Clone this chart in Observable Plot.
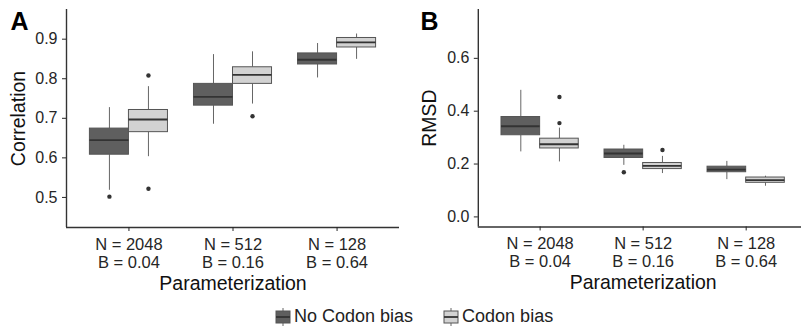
<!DOCTYPE html>
<html>
<head>
<meta charset="utf-8">
<script src="https://cdn.jsdelivr.net/npm/d3@7"></script>
<script src="https://cdn.jsdelivr.net/npm/@observablehq/plot@0.6"></script>
<style>
  html, body { margin: 0; padding: 0; background: #fff; }
  #wrap { position: relative; width: 802px; height: 331px; background: #fff; font-family: "Liberation Sans", Arial, sans-serif; overflow: hidden; }
  #a { position: absolute; left: 0; top: 0; }
  #b { position: absolute; left: 401px; top: 0; }
  #legend { position: absolute; left: 275px; top: 306px; display: flex; align-items: center; font-size: 18px; color: #222; }
  .item { display: flex; align-items: center; margin-right: 30px; }
  .item svg { margin-right: 3px; }
</style>
</head>
<body>
<div id="wrap">
  <div id="a"></div>
  <div id="b"></div>
  <div id="legend"></div>
</div>
<script>
// ---- Data ----
const params = ["N = 2048\nB = 0.04", "N = 512\nB = 0.16", "N = 128\nB = 0.64"];
const series = ["No Codon bias", "Codon bias"];
const seriesColors = ["#5f5f5f", "#d2d2d2"];

// box stats per parameterization: [lower whisker, Q1, median, Q3, upper whisker]
const corrNoBias = [[0.518, 0.608, 0.645, 0.674, 0.727], [0.685, 0.732, 0.754, 0.787, 0.861], [0.802, 0.836, 0.848, 0.864, 0.889]];
const corrBias   = [[0.603, 0.665, 0.697, 0.721, 0.780], [0.736, 0.787, 0.810, 0.829, 0.868], [0.849, 0.879, 0.892, 0.903, 0.913]];
const corrOutNoBias = [[0.502], [], []];
const corrOutBias   = [[0.808, 0.522], [0.705], []];
const corrTicks = [0.5, 0.6, 0.7, 0.8, 0.9];

const rmsdNoBias = [[0.246, 0.309, 0.343, 0.378, 0.479], [0.195, 0.223, 0.240, 0.255, 0.271], [0.141, 0.169, 0.179, 0.190, 0.210]];
const rmsdBias   = [[0.208, 0.259, 0.275, 0.296, 0.336], [0.164, 0.181, 0.193, 0.204, 0.229], [0.116, 0.129, 0.139, 0.149, 0.154]];
const rmsdOutNoBias = [[], [0.169], []];
const rmsdOutBias   = [[0.454, 0.355], [0.253], []];
const rmsdTicks = [0.0, 0.2, 0.4, 0.6];

const DODGE = 0.375;

function panel({letter, ytitle, noBias, bias, outNo, outBias, ticks, yDomain, xDomain, marginLeft, width, titleX, letterX}) {
  const stats = [noBias, bias];
  const rows = [];
  stats.forEach((arr, s) => arr.forEach((st, i) => rows.push({g: i + 1, s, st})));
  const outs = [];
  [outNo, outBias].forEach((arr, s) => arr.forEach((vals, i) => vals.forEach(v => outs.push({g: i + 1, s, v}))));
  const cx = d => d.g - DODGE / 2 + d.s * DODGE;
  return Plot.plot({
    width,
    height: 300,
    marginTop: 9,
    marginBottom: 73,
    marginLeft,
    marginRight: 1,
    style: {fontFamily: "'Liberation Sans', Arial, sans-serif", background: "white", color: "#262626", overflow: "visible"},
    x: {type: "linear", domain: xDomain},
    y: {domain: yDomain},
    color: {domain: series, range: seriesColors},
    marks: [
      // whiskers
      Plot.ruleX(rows, {x: cx, y1: d => d.st[0], y2: d => d.st[1], stroke: "#666", strokeWidth: 1}),
      Plot.ruleX(rows, {x: cx, y1: d => d.st[3], y2: d => d.st[4], stroke: "#666", strokeWidth: 1}),
      // boxes
      Plot.rect(rows, {x1: d => d.g - DODGE + d.s * DODGE, x2: d => d.g + d.s * DODGE, y1: d => d.st[1], y2: d => d.st[3], fill: d => series[d.s], stroke: "#555", strokeWidth: 1}),
      // medians
      Plot.ruleY(rows, {y: d => d.st[2], x1: d => d.g - DODGE + d.s * DODGE, x2: d => d.g + d.s * DODGE, stroke: "#333", strokeWidth: 1.8}),
      // outliers
      Plot.dot(outs, {x: cx, y: d => d.v, r: 2.2, fill: "#333", stroke: "none"}),
      // axis lines
      Plot.ruleX([xDomain[0]], {stroke: "#333", strokeWidth: 1.4}),
      Plot.ruleY([yDomain[0]], {stroke: "#333", strokeWidth: 1.4}),
      Plot.axisY({ticks, tickSize: 4, tickPadding: 5, fontSize: 16, label: null, tickFormat: d3.format(".1f")}),
      Plot.axisX({ticks: [1, 2, 3], tickFormat: i => params[i - 1], tickSize: 4, tickPadding: 5, fontSize: 16.5, lineHeight: 1.12, label: null}),
      // titles
      Plot.text([ytitle], {frameAnchor: "left", dx: -(marginLeft - titleX), rotate: -90, textAnchor: "middle", fontSize: 19.5, fill: "#111"}),
      Plot.text(["Parameterization"], {x: () => 2, frameAnchor: "bottom", dy: 62, lineAnchor: "bottom", textAnchor: "middle", fontSize: 19.5, fill: "#111"}),
      Plot.text([letter], {frameAnchor: "top-left", dx: -(marginLeft - letterX), dy: 20.5, lineAnchor: "bottom", textAnchor: "start", fontSize: 25, fontWeight: "bold", fill: "#000"})
    ]
  });
}

document.getElementById("a").appendChild(panel({
  letter: "A", ytitle: "Correlation", noBias: corrNoBias, bias: corrBias,
  outNo: corrOutNoBias, outBias: corrOutBias, ticks: corrTicks,
  yDomain: [0.424, 0.975], xDomain: [0.4, 3.6], marginLeft: 66, width: 400, titleX: 18, letterX: 10
}));
document.getElementById("b").appendChild(panel({
  letter: "B", ytitle: "RMSD", noBias: rmsdNoBias, bias: rmsdBias,
  outNo: rmsdOutNoBias, outBias: rmsdOutBias, ticks: rmsdTicks,
  yDomain: [-0.038, 0.785], xDomain: [0.4, 3.537], marginLeft: 77, width: 402, titleX: 28, letterX: 19
}));

// legend
const legend = document.getElementById("legend");
series.forEach((name, i) => {
  const item = document.createElement("div");
  item.className = "item";
  item.innerHTML = `<svg width="16" height="18" viewBox="0 0 16 18">
    <line x1="8" x2="8" y1="0" y2="18" stroke="#666" stroke-width="1"/>
    <rect x="1" y="3" width="14" height="12" fill="${seriesColors[i]}" stroke="#555" stroke-width="1"/>
    <line x1="1" x2="15" y1="9" y2="9" stroke="#333" stroke-width="1.8"/>
  </svg><span>${name}</span>`;
  legend.appendChild(item);
});
</script>
</body>
</html>
